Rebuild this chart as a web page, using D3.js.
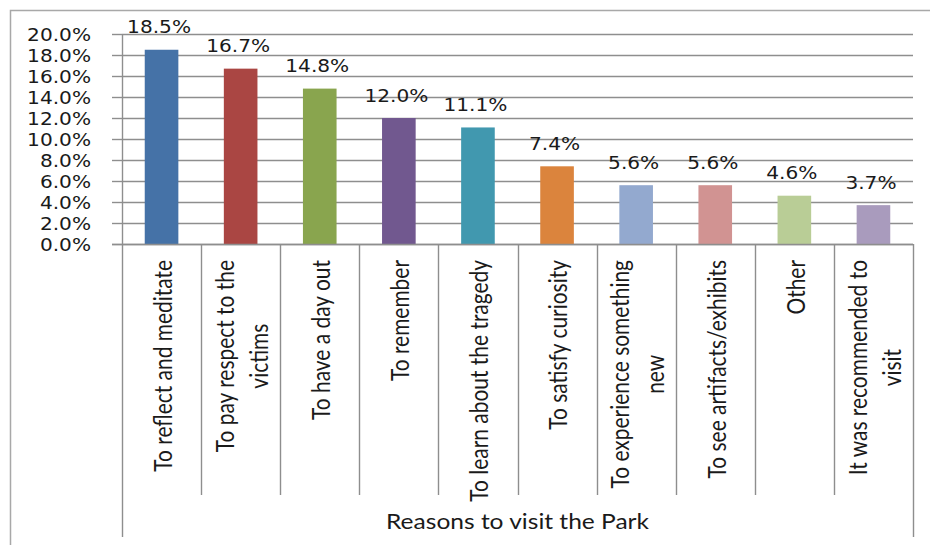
<!DOCTYPE html>
<html><head><meta charset="utf-8">
<script src="https://cdn.jsdelivr.net/npm/d3@7"></script>
<style>html,body{margin:0;padding:0;background:#fff;} svg{display:block}</style>
</head><body>
<svg id="chart" width="930" height="545"></svg>
<script>
// ---- data ----
const categories = [
  "To reflect and meditate",
  "To pay respect to the\nvictims",
  "To have a day out",
  "To remember",
  "To learn about the tragedy",
  "To satisfy curiosity",
  "To experience something\nnew",
  "To see artifacts/exhibits",
  "Other",
  "It was recommended to\nvisit"
];
const values = [18.5, 16.7, 14.8, 12.0, 11.1, 7.4, 5.6, 5.6, 4.6, 3.7];
const barColors = ["#4572A7", "#AA4643", "#89A54E", "#71588F", "#4198AF",
                   "#DB843D", "#93A9CF", "#D19392", "#B9CD96", "#A99BBD"];
const yTicks = [0, 2, 4, 6, 8, 10, 12, 14, 16, 18, 20];
const axisTitle = "Reasons to visit the Park";

// ---- layout ----
const svg = d3.select("#chart");
const L = 122, R = 913, T = 34, B = 244;
const SX = 1.15;            // horizontal stretch of the glyphs
const gridColor = "#8e8e8e";
const numFont = "'DejaVu Sans', Verdana, sans-serif";
const catFont = "Lato, 'Liberation Sans', sans-serif";

const x = d3.scaleBand().domain(categories).range([L, R]).padding(0);
const y = d3.scaleLinear().domain([0, 20]).range([B, T]);

// outer frame
svg.append("path").attr("d", "M10.5,545 V10.5 H930")
  .attr("fill", "none").attr("stroke", "#a8a8a8").attr("stroke-width", 1.5);

// gridlines (with outward tick)
const grid = svg.append("g").attr("transform", `translate(${L},0)`)
  .call(d3.axisLeft(y).tickValues(yTicks).tickSizeInner(-(R - L)).tickSizeOuter(0).tickFormat(""));
grid.select(".domain").remove();
grid.selectAll("line").attr("stroke", gridColor).attr("stroke-width", 1.4);

const yAxis = svg.append("g").attr("transform", `translate(${L},0)`)
  .call(d3.axisLeft(y).tickValues(yTicks).tickSize(10).tickSizeOuter(0)
    .tickFormat(d => d.toFixed(1) + "%"));
yAxis.select(".domain").remove();
yAxis.selectAll("line").attr("stroke", gridColor).attr("stroke-width", 1.4);
yAxis.selectAll("text")
  .attr("x", null).attr("dy", "0.36em")
  .attr("transform", `translate(-31,0) scale(${SX},1)`)
  .attr("fill", "#1a1a1a")
  .style("font-family", numFont).style("font-size", "17.5px");

// bars
const barFrac = 0.425;
svg.append("g").selectAll("rect").data(values).join("rect")
  .attr("x", (d, i) => x(categories[i]) + x.bandwidth() * (1 - barFrac) / 2)
  .attr("width", x.bandwidth() * barFrac)
  .attr("y", d => y(d))
  .attr("height", d => y(0) - y(d))
  .attr("fill", (d, i) => barColors[i]);

// data labels
svg.append("g").selectAll("text").data(values).join("text")
  .attr("transform", (d, i) =>
    `translate(${x(categories[i]) + x.bandwidth() / 2 - 2.5},${y(d) - 16.5}) scale(${SX},1)`)
  .attr("text-anchor", "middle")
  .attr("fill", "#1a1a1a")
  .style("font-family", numFont).style("font-size", "17.5px")
  .text(d => d.toFixed(1) + "%");

// category axis lines
const bounds = categories.map(c => x(c)).concat([R]);
svg.append("g").selectAll("line").data(bounds).join("line")
  .attr("x1", d => Math.round(d) + 0.5).attr("x2", d => Math.round(d) + 0.5)
  .attr("y1", B).attr("y2", (d, i) => (i === 0 || i === bounds.length - 1) ? 537 : 495)
  .attr("stroke", gridColor).attr("stroke-width", 1.4);
// value axis line
svg.append("line").attr("x1", L + 0.5).attr("x2", L + 0.5).attr("y1", T).attr("y2", B)
  .attr("stroke", gridColor).attr("stroke-width", 1.4);
// category baseline
svg.append("line").attr("x1", L - 10).attr("x2", R).attr("y1", B + 0.5).attr("y2", B + 0.5)
  .attr("stroke", gridColor).attr("stroke-width", 1.4);

// category labels (rotated, top aligned, lines centred)
const catSize0 = 20;
const probe = svg.append("text").style("font-family", catFont).style("font-size", catSize0 + "px")
  .text(categories[0]);
const catSize = catSize0 * 212 / probe.node().getComputedTextLength();
probe.remove();
const lineH = catSize * 1.42;
const labelTop = 260;
categories.forEach((c, i) => {
  const lines = c.split("\n");
  const g = svg.append("g")
    .attr("transform", `translate(${x(c) + x.bandwidth() / 2 + 1},${labelTop}) scale(${SX},1) rotate(-90)`);
  const t = g.append("text").style("font-family", catFont).style("font-size", catSize + "px")
    .attr("fill", "#1a1a1a").attr("text-anchor", "middle");
  const ts = lines.map((ln, j) => t.append("tspan").attr("y", catSize * 0.39 + (j - (lines.length - 1) / 2) * lineH).text(ln));
  const maxLen = d3.max(ts, s => s.node().getComputedTextLength());
  ts.forEach(s => s.attr("x", -maxLen / 2));
});

// axis title
const title = svg.append("text")
  .style("font-family", catFont).style("font-size", "20px").attr("fill", "#1a1a1a")
  .attr("text-anchor", "middle").text(axisTitle);
const tLen = title.node().getComputedTextLength();
const tSize = 20 * (263 / SX) / tLen;
title.style("font-size", tSize + "px")
  .attr("transform", `translate(${(L + R) / 2},529) scale(${SX},1)`);
</script>
</body></html>
